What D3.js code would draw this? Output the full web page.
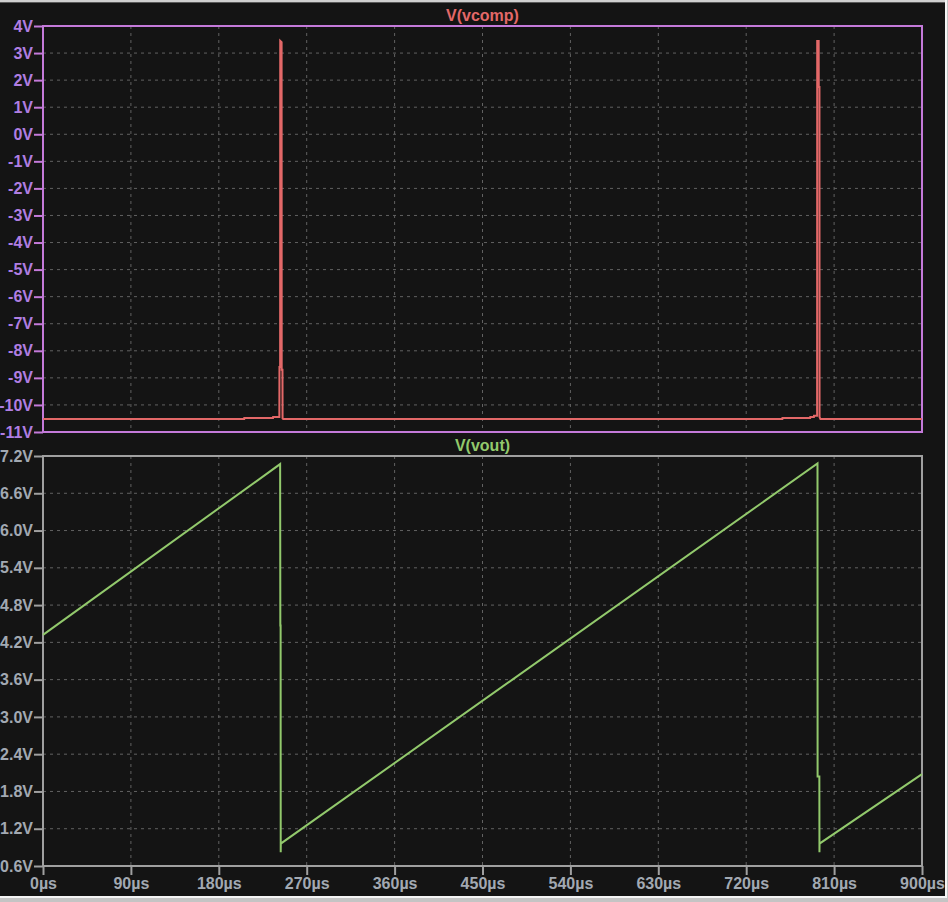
<!DOCTYPE html>
<html>
<head>
<meta charset="utf-8">
<script src="https://cdn.jsdelivr.net/npm/d3@7/dist/d3.min.js"></script>
<style>
  html, body { margin: 0; padding: 0; background: #141414; }
  svg { display: block; }
  text { font-family: "Liberation Sans", Arial, sans-serif; font-weight: bold; font-size: 16px; }
</style>
</head>
<body>
<script>
// ---- Data ----
const timeTicks = [0, 90, 180, 270, 360, 450, 540, 630, 720, 810, 900];
const vcompTicks = [-11, -10, -9, -8, -7, -6, -5, -4, -3, -2, -1, 0, 1, 2, 3, 4];
const voutTicks = [0.6, 1.2, 1.8, 2.4, 3.0, 3.6, 4.2, 4.8, 5.4, 6.0, 6.6, 7.2];

// V(vcomp): time (µs) and volts
const vcompTime = [0, 206, 206.1, 235.5, 235.6, 242, 242.1, 242.8, 242.9, 244.3, 244.4, 245.2, 245.3, 246,
  757, 757.1, 785.5, 785.6, 789.3, 789.4, 792.6, 792.7, 794.2, 794.3, 795.0, 795.1, 796, 900];
const vcompVolts = [-10.52, -10.52, -10.48, -10.48, -10.45, -10.45, -8.6, -8.6, 3.45, 3.4, -8.7, -8.7, -10.5, -10.52,
  -10.52, -10.48, -10.48, -10.45, -10.45, -10.4, -10.4, 3.45, 3.45, 1.75, 1.75, -10.45, -10.52, -10.52];

// V(vout): time (µs) and volts
const voutTime = [0, 242.8, 243.0, 243.3, 243.4, 243.5, 793.0, 793.1, 794.9, 795.0, 795.1, 900];
const voutVolts = [4.32, 7.07, 4.47, 4.47, 0.82, 0.96, 7.08, 2.04, 2.04, 0.82, 0.96, 2.08];

// ---- Layout ----
const W = 948, H = 902;
const left = 43, right = 922;
const top1 = 26, bot1 = 432;
const top2 = 456, bot2 = 866;

const purple = "#c47ada", purpleText = "#b07ee2";
const gray = "#a0a0a0", grayText = "#a2a9b2";
const red = "#e36868", green = "#92c96c";
const gridCol = "#626262";

const svg = d3.select("body").append("svg").attr("width", W).attr("height", H);
svg.append("rect").attr("width", W).attr("height", H).attr("fill", "#141414");

// window frame
svg.append("rect").attr("x", 0).attr("y", 0).attr("width", W).attr("height", 2).attr("fill", "#d0d0d0");
svg.append("rect").attr("x", 0).attr("y", 2).attr("width", W).attr("height", 1).attr("fill", "#5a5a5a");
svg.append("rect").attr("x", 0).attr("y", 896).attr("width", W).attr("height", 2).attr("fill", "#f4f4f4");
svg.append("rect").attr("x", 0).attr("y", 898).attr("width", W).attr("height", 4).attr("fill", "#c4c4c4");
svg.append("rect").attr("x", 945).attr("y", 0).attr("width", 2).attr("height", 898).attr("fill", "#f4f4f4");
svg.append("rect").attr("x", 947).attr("y", 0).attr("width", 1).attr("height", 902).attr("fill", "#c4c4c4");

const x = d3.scaleLinear().domain([0, 900]).range([left, right]);
const y1 = d3.scaleLinear().domain([-11, 4]).range([bot1, top1]);
const y2 = d3.scaleLinear().domain([0.6, 7.2]).range([bot2, top2]);

function grid(g, yScale, yTicks, yTop, yBot) {
  g.selectAll("line.v").data(timeTicks.slice(1, -1)).join("line")
    .attr("x1", d => x(d)).attr("x2", d => x(d)).attr("y1", yTop).attr("y2", yBot)
    .attr("stroke", gridCol).attr("stroke-dasharray", "3,4");
  g.selectAll("line.h").data(yTicks.slice(1, -1)).join("line")
    .attr("x1", left).attr("x2", right).attr("y1", d => yScale(d)).attr("y2", d => yScale(d))
    .attr("stroke", gridCol).attr("stroke-dasharray", "3,4");
}

// ---- Top panel ----
const g1 = svg.append("g");
grid(g1.append("g"), y1, vcompTicks, top1, bot1);

const ax1 = g1.append("g").attr("transform", `translate(${left},0)`)
  .call(d3.axisLeft(y1).tickValues(vcompTicks).tickFormat(d => d + "V").tickSize(9).tickPadding(1));
ax1.select(".domain").remove();
ax1.selectAll("line").attr("stroke", purple).attr("stroke-width", 2);
ax1.selectAll("text").attr("fill", purpleText).style("font-size", "16px").attr("font-family", null);

g1.append("rect").attr("x", left).attr("y", top1).attr("width", right - left).attr("height", bot1 - top1)
  .attr("fill", "none").attr("stroke", purple).attr("stroke-width", 2);

const line1 = d3.line().x(d => x(d[0])).y(d => y1(d[1]));
g1.append("path").datum(vcompTime.map((t, i) => [t, vcompVolts[i]]))
  .attr("d", line1).attr("fill", "none").attr("stroke", red).attr("stroke-width", 2);

g1.append("text").attr("x", (left + right) / 2).attr("y", 21).attr("text-anchor", "middle")
  .attr("fill", red).text("V(vcomp)");

// ---- Bottom panel ----
const g2 = svg.append("g");
grid(g2.append("g"), y2, voutTicks, top2, bot2);

const ax2 = g2.append("g").attr("transform", `translate(${left},0)`)
  .call(d3.axisLeft(y2).tickValues(voutTicks).tickFormat(d => d.toFixed(1) + "V").tickSize(9).tickPadding(1));
ax2.select(".domain").remove();
ax2.selectAll("line").attr("stroke", gray).attr("stroke-width", 2);
ax2.selectAll("text").attr("fill", grayText).style("font-size", "16px").attr("font-family", null);

const ax3 = g2.append("g").attr("transform", `translate(0,${bot2})`)
  .call(d3.axisBottom(x).tickValues(timeTicks).tickFormat(d => d + "µs").tickSize(9).tickPadding(3));
ax3.select(".domain").remove();
ax3.selectAll("line").attr("stroke", gray).attr("stroke-width", 2);
ax3.selectAll("text").attr("fill", grayText).style("font-size", "16px").attr("font-family", null);

g2.append("rect").attr("x", left).attr("y", top2).attr("width", right - left).attr("height", bot2 - top2)
  .attr("fill", "none").attr("stroke", gray).attr("stroke-width", 2);

const line2 = d3.line().x(d => x(d[0])).y(d => y2(d[1]));
g2.append("path").datum(voutTime.map((t, i) => [t, voutVolts[i]]))
  .attr("d", line2).attr("fill", "none").attr("stroke", green).attr("stroke-width", 2);

g2.append("text").attr("x", (left + right) / 2).attr("y", 451).attr("text-anchor", "middle")
  .attr("fill", green).text("V(vout)");
</script>
</body>
</html>
